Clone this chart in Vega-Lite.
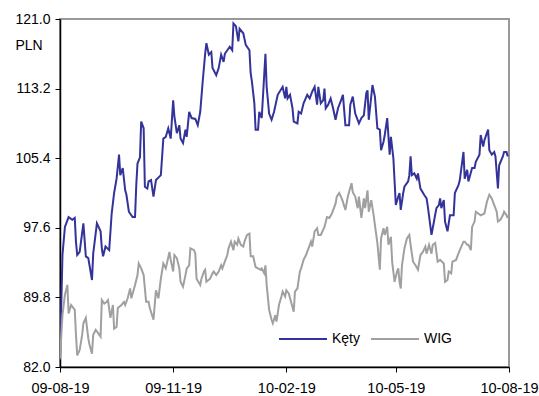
{
  "$schema": "https://vega.github.io/schema/vega-lite/v6.json",
  "width": 449,
  "height": 348,
  "autosize": {"type": "none"},
  "padding": {"left": 60, "top": 19, "right": 30, "bottom": 29},
  "config": {
    "font": "Liberation Sans",
    "view": {"stroke": "#999999", "strokeWidth": 2},
    "axis": {"grid": false, "labelFont": "Liberation Sans", "labelFontSize": 14, "labelColor": "#000000", "domainColor": "#000000", "domainWidth": 1.5, "tickColor": "#000000", "tickWidth": 1, "tickSize": 5}
  },
  "data": {"values": [
    {"s":"Kęty","d":"2009-08-19","v":82.8},{"s":"Kęty","d":"2009-08-21","v":94.55},{"s":"Kęty","d":"2009-08-23","v":97.7},{"s":"Kęty","d":"2009-08-26","v":98.8},{"s":"Kęty","d":"2009-08-29","v":98.5},{"s":"Kęty","d":"2009-08-31","v":98.7},{"s":"Kęty","d":"2009-09-01","v":96.0},{"s":"Kęty","d":"2009-09-02","v":94.55},{"s":"Kęty","d":"2009-09-04","v":94.9},{"s":"Kęty","d":"2009-09-07","v":98.1},{"s":"Kęty","d":"2009-09-09","v":94.4},{"s":"Kęty","d":"2009-09-11","v":94.2},{"s":"Kęty","d":"2009-09-14","v":91.75},{"s":"Kęty","d":"2009-09-15","v":94.7},{"s":"Kęty","d":"2009-09-18","v":98.1},{"s":"Kęty","d":"2009-09-21","v":97.2},{"s":"Kęty","d":"2009-09-22","v":95.3},{"s":"Kęty","d":"2009-09-23","v":94.4},{"s":"Kęty","d":"2009-09-25","v":95.5},{"s":"Kęty","d":"2009-09-28","v":95.1},{"s":"Kęty","d":"2009-09-30","v":99.2},{"s":"Kęty","d":"2009-10-02","v":101.5},{"s":"Kęty","d":"2009-10-04","v":103.1},{"s":"Kęty","d":"2009-10-06","v":105.8},{"s":"Kęty","d":"2009-10-07","v":103.5},{"s":"Kęty","d":"2009-10-09","v":104.3},{"s":"Kęty","d":"2009-10-11","v":101.8},{"s":"Kęty","d":"2009-10-12","v":101.3},{"s":"Kęty","d":"2009-10-14","v":99.4},{"s":"Kęty","d":"2009-10-17","v":98.8},{"s":"Kęty","d":"2009-10-19","v":98.8},{"s":"Kęty","d":"2009-10-20","v":102.4},{"s":"Kęty","d":"2009-10-21","v":104.8},{"s":"Kęty","d":"2009-10-23","v":105.5},{"s":"Kęty","d":"2009-10-24","v":109.5},{"s":"Kęty","d":"2009-10-26","v":108.75},{"s":"Kęty","d":"2009-10-27","v":102.2},{"s":"Kęty","d":"2009-10-29","v":102.0},{"s":"Kęty","d":"2009-10-30","v":102.8},{"s":"Kęty","d":"2009-11-01","v":102.95},{"s":"Kęty","d":"2009-11-03","v":101.1},{"s":"Kęty","d":"2009-11-05","v":102.95},{"s":"Kęty","d":"2009-11-09","v":103.5},{"s":"Kęty","d":"2009-11-11","v":107.6},{"s":"Kęty","d":"2009-11-13","v":107.8},{"s":"Kęty","d":"2009-11-15","v":108.75},{"s":"Kęty","d":"2009-11-17","v":107.6},{"s":"Kęty","d":"2009-11-19","v":111.9},{"s":"Kęty","d":"2009-11-20","v":110.05},{"s":"Kęty","d":"2009-11-22","v":108.2},{"s":"Kęty","d":"2009-11-24","v":109.1},{"s":"Kęty","d":"2009-11-25","v":107.6},{"s":"Kęty","d":"2009-11-27","v":107.1},{"s":"Kęty","d":"2009-11-29","v":108.6},{"s":"Kęty","d":"2009-11-30","v":107.8},{"s":"Kęty","d":"2009-12-02","v":110.6},{"s":"Kęty","d":"2009-12-04","v":109.9},{"s":"Kęty","d":"2009-12-07","v":109.8},{"s":"Kęty","d":"2009-12-09","v":109.1},{"s":"Kęty","d":"2009-12-11","v":110.6},{"s":"Kęty","d":"2009-12-13","v":114.0},{"s":"Kęty","d":"2009-12-15","v":117.1},{"s":"Kęty","d":"2009-12-16","v":118.3},{"s":"Kęty","d":"2009-12-18","v":117.0},{"s":"Kęty","d":"2009-12-20","v":117.3},{"s":"Kęty","d":"2009-12-21","v":115.5},{"s":"Kęty","d":"2009-12-24","v":114.7},{"s":"Kęty","d":"2009-12-26","v":115.5},{"s":"Kęty","d":"2009-12-28","v":117.0},{"s":"Kęty","d":"2009-12-30","v":116.2},{"s":"Kęty","d":"2009-12-31","v":117.1},{"s":"Kęty","d":"2010-01-03","v":117.7},{"s":"Kęty","d":"2010-01-04","v":117.9},{"s":"Kęty","d":"2010-01-06","v":117.5},{"s":"Kęty","d":"2010-01-07","v":120.5},{"s":"Kęty","d":"2010-01-09","v":120.2},{"s":"Kęty","d":"2010-01-11","v":118.5},{"s":"Kęty","d":"2010-01-12","v":119.9},{"s":"Kęty","d":"2010-01-15","v":119.4},{"s":"Kęty","d":"2010-01-17","v":118.1},{"s":"Kęty","d":"2010-01-20","v":117.5},{"s":"Kęty","d":"2010-01-21","v":114.9},{"s":"Kęty","d":"2010-01-22","v":114.0},{"s":"Kęty","d":"2010-01-24","v":111.55},{"s":"Kęty","d":"2010-01-25","v":108.6},{"s":"Kęty","d":"2010-01-27","v":108.6},{"s":"Kęty","d":"2010-01-28","v":110.6},{"s":"Kęty","d":"2010-01-30","v":109.9},{"s":"Kęty","d":"2010-02-02","v":117.1},{"s":"Kęty","d":"2010-02-03","v":113.4},{"s":"Kęty","d":"2010-02-05","v":110.4},{"s":"Kęty","d":"2010-02-07","v":109.7},{"s":"Kęty","d":"2010-02-09","v":110.6},{"s":"Kęty","d":"2010-02-12","v":112.5},{"s":"Kęty","d":"2010-02-16","v":113.4},{"s":"Kęty","d":"2010-02-18","v":112.1},{"s":"Kęty","d":"2010-02-19","v":113.4},{"s":"Kęty","d":"2010-02-20","v":112.1},{"s":"Kęty","d":"2010-02-22","v":112.5},{"s":"Kęty","d":"2010-02-24","v":111.0},{"s":"Kęty","d":"2010-02-25","v":109.5},{"s":"Kęty","d":"2010-02-28","v":109.3},{"s":"Kęty","d":"2010-03-01","v":110.6},{"s":"Kęty","d":"2010-03-03","v":110.4},{"s":"Kęty","d":"2010-03-05","v":111.55},{"s":"Kęty","d":"2010-03-08","v":112.5},{"s":"Kęty","d":"2010-03-10","v":112.1},{"s":"Kęty","d":"2010-03-12","v":112.85},{"s":"Kęty","d":"2010-03-14","v":113.4},{"s":"Kęty","d":"2010-03-16","v":111.4},{"s":"Kęty","d":"2010-03-17","v":113.4},{"s":"Kęty","d":"2010-03-19","v":111.55},{"s":"Kęty","d":"2010-03-21","v":111.9},{"s":"Kęty","d":"2010-03-22","v":113.2},{"s":"Kęty","d":"2010-03-23","v":111.0},{"s":"Kęty","d":"2010-03-25","v":111.4},{"s":"Kęty","d":"2010-03-27","v":112.1},{"s":"Kęty","d":"2010-03-29","v":111.0},{"s":"Kęty","d":"2010-03-31","v":109.7},{"s":"Kęty","d":"2010-04-02","v":111.0},{"s":"Kęty","d":"2010-04-04","v":111.7},{"s":"Kęty","d":"2010-04-06","v":112.5},{"s":"Kęty","d":"2010-04-08","v":109.1},{"s":"Kęty","d":"2010-04-11","v":109.1},{"s":"Kęty","d":"2010-04-12","v":111.4},{"s":"Kęty","d":"2010-04-14","v":112.3},{"s":"Kęty","d":"2010-04-16","v":110.4},{"s":"Kęty","d":"2010-04-19","v":109.3},{"s":"Kęty","d":"2010-04-21","v":109.9},{"s":"Kęty","d":"2010-04-23","v":110.2},{"s":"Kęty","d":"2010-04-25","v":112.7},{"s":"Kęty","d":"2010-04-26","v":113.0},{"s":"Kęty","d":"2010-04-27","v":109.7},{"s":"Kęty","d":"2010-04-30","v":113.6},{"s":"Kęty","d":"2010-05-02","v":112.3},{"s":"Kęty","d":"2010-05-04","v":108.75},{"s":"Kęty","d":"2010-05-06","v":108.6},{"s":"Kęty","d":"2010-05-07","v":106.3},{"s":"Kęty","d":"2010-05-09","v":107.25},{"s":"Kęty","d":"2010-05-10","v":108.0},{"s":"Kęty","d":"2010-05-12","v":109.9},{"s":"Kęty","d":"2010-05-14","v":105.8},{"s":"Kęty","d":"2010-05-15","v":107.8},{"s":"Kęty","d":"2010-05-17","v":105.4},{"s":"Kęty","d":"2010-05-19","v":100.15},{"s":"Kęty","d":"2010-05-21","v":101.1},{"s":"Kęty","d":"2010-05-22","v":101.5},{"s":"Kęty","d":"2010-05-23","v":99.6},{"s":"Kęty","d":"2010-05-25","v":101.5},{"s":"Kęty","d":"2010-05-26","v":102.2},{"s":"Kęty","d":"2010-05-29","v":102.8},{"s":"Kęty","d":"2010-05-30","v":103.5},{"s":"Kęty","d":"2010-05-31","v":105.6},{"s":"Kęty","d":"2010-06-01","v":103.5},{"s":"Kęty","d":"2010-06-03","v":103.7},{"s":"Kęty","d":"2010-06-05","v":103.1},{"s":"Kęty","d":"2010-06-06","v":103.7},{"s":"Kęty","d":"2010-06-08","v":102.0},{"s":"Kęty","d":"2010-06-11","v":101.3},{"s":"Kęty","d":"2010-06-13","v":100.9},{"s":"Kęty","d":"2010-06-14","v":100.0},{"s":"Kęty","d":"2010-06-17","v":96.8},{"s":"Kęty","d":"2010-06-19","v":98.3},{"s":"Kęty","d":"2010-06-21","v":99.8},{"s":"Kęty","d":"2010-06-23","v":100.15},{"s":"Kęty","d":"2010-06-24","v":100.9},{"s":"Kęty","d":"2010-06-25","v":99.8},{"s":"Kęty","d":"2010-06-27","v":100.7},{"s":"Kęty","d":"2010-06-28","v":98.3},{"s":"Kęty","d":"2010-06-30","v":97.2},{"s":"Kęty","d":"2010-07-02","v":99.0},{"s":"Kęty","d":"2010-07-05","v":99.0},{"s":"Kęty","d":"2010-07-06","v":101.5},{"s":"Kęty","d":"2010-07-09","v":102.4},{"s":"Kęty","d":"2010-07-10","v":102.95},{"s":"Kęty","d":"2010-07-13","v":106.1},{"s":"Kęty","d":"2010-07-14","v":103.1},{"s":"Kęty","d":"2010-07-16","v":104.1},{"s":"Kęty","d":"2010-07-17","v":102.8},{"s":"Kęty","d":"2010-07-20","v":104.3},{"s":"Kęty","d":"2010-07-22","v":104.3},{"s":"Kęty","d":"2010-07-23","v":105.0},{"s":"Kęty","d":"2010-07-26","v":105.8},{"s":"Kęty","d":"2010-07-27","v":108.0},{"s":"Kęty","d":"2010-07-29","v":106.7},{"s":"Kęty","d":"2010-07-30","v":107.4},{"s":"Kęty","d":"2010-08-02","v":108.6},{"s":"Kęty","d":"2010-08-03","v":106.3},{"s":"Kęty","d":"2010-08-05","v":105.8},{"s":"Kęty","d":"2010-08-07","v":106.1},{"s":"Kęty","d":"2010-08-08","v":105.6},{"s":"Kęty","d":"2010-08-10","v":102.0},{"s":"Kęty","d":"2010-08-11","v":104.6},{"s":"Kęty","d":"2010-08-14","v":105.6},{"s":"Kęty","d":"2010-08-15","v":106.1},{"s":"Kęty","d":"2010-08-17","v":106.1},{"s":"Kęty","d":"2010-08-18","v":105.6},
    {"s":"WIG","d":"2009-08-19","v":82.97},{"s":"WIG","d":"2009-08-21","v":87.8},{"s":"WIG","d":"2009-08-23","v":90.1},{"s":"WIG","d":"2009-08-25","v":91.2},{"s":"WIG","d":"2009-08-26","v":88.0},{"s":"WIG","d":"2009-08-28","v":88.95},{"s":"WIG","d":"2009-08-31","v":88.4},{"s":"WIG","d":"2009-09-01","v":85.6},{"s":"WIG","d":"2009-09-02","v":83.3},{"s":"WIG","d":"2009-09-04","v":83.9},{"s":"WIG","d":"2009-09-06","v":85.6},{"s":"WIG","d":"2009-09-07","v":86.9},{"s":"WIG","d":"2009-09-09","v":87.5},{"s":"WIG","d":"2009-09-11","v":85.2},{"s":"WIG","d":"2009-09-12","v":84.5},{"s":"WIG","d":"2009-09-14","v":83.5},{"s":"WIG","d":"2009-09-15","v":85.6},{"s":"WIG","d":"2009-09-17","v":86.15},{"s":"WIG","d":"2009-09-19","v":85.8},{"s":"WIG","d":"2009-09-21","v":85.4},{"s":"WIG","d":"2009-09-22","v":89.5},{"s":"WIG","d":"2009-09-24","v":89.1},{"s":"WIG","d":"2009-09-26","v":89.3},{"s":"WIG","d":"2009-09-27","v":89.5},{"s":"WIG","d":"2009-09-29","v":87.5},{"s":"WIG","d":"2009-10-01","v":88.95},{"s":"WIG","d":"2009-10-02","v":86.3},{"s":"WIG","d":"2009-10-04","v":86.5},{"s":"WIG","d":"2009-10-05","v":88.6},{"s":"WIG","d":"2009-10-08","v":88.95},{"s":"WIG","d":"2009-10-10","v":89.3},{"s":"WIG","d":"2009-10-11","v":88.95},{"s":"WIG","d":"2009-10-13","v":89.7},{"s":"WIG","d":"2009-10-15","v":90.8},{"s":"WIG","d":"2009-10-16","v":89.7},{"s":"WIG","d":"2009-10-19","v":91.2},{"s":"WIG","d":"2009-10-21","v":92.3},{"s":"WIG","d":"2009-10-22","v":93.6},{"s":"WIG","d":"2009-10-24","v":93.05},{"s":"WIG","d":"2009-10-26","v":92.3},{"s":"WIG","d":"2009-10-28","v":89.3},{"s":"WIG","d":"2009-10-30","v":89.3},{"s":"WIG","d":"2009-10-31","v":88.6},{"s":"WIG","d":"2009-11-03","v":87.3},{"s":"WIG","d":"2009-11-05","v":90.6},{"s":"WIG","d":"2009-11-07","v":89.7},{"s":"WIG","d":"2009-11-09","v":91.9},{"s":"WIG","d":"2009-11-11","v":93.6},{"s":"WIG","d":"2009-11-13","v":93.05},{"s":"WIG","d":"2009-11-16","v":94.9},{"s":"WIG","d":"2009-11-17","v":94.0},{"s":"WIG","d":"2009-11-19","v":92.7},{"s":"WIG","d":"2009-11-20","v":94.55},{"s":"WIG","d":"2009-11-22","v":94.2},{"s":"WIG","d":"2009-11-24","v":93.05},{"s":"WIG","d":"2009-11-25","v":91.55},{"s":"WIG","d":"2009-11-27","v":91.0},{"s":"WIG","d":"2009-11-29","v":92.3},{"s":"WIG","d":"2009-11-30","v":93.05},{"s":"WIG","d":"2009-12-02","v":93.4},{"s":"WIG","d":"2009-12-03","v":95.3},{"s":"WIG","d":"2009-12-06","v":95.1},{"s":"WIG","d":"2009-12-07","v":94.7},{"s":"WIG","d":"2009-12-08","v":91.9},{"s":"WIG","d":"2009-12-11","v":91.2},{"s":"WIG","d":"2009-12-12","v":91.9},{"s":"WIG","d":"2009-12-14","v":92.7},{"s":"WIG","d":"2009-12-15","v":92.9},{"s":"WIG","d":"2009-12-16","v":91.55},{"s":"WIG","d":"2009-12-19","v":91.9},{"s":"WIG","d":"2009-12-21","v":92.5},{"s":"WIG","d":"2009-12-22","v":92.7},{"s":"WIG","d":"2009-12-24","v":92.3},{"s":"WIG","d":"2009-12-26","v":92.7},{"s":"WIG","d":"2009-12-28","v":93.4},{"s":"WIG","d":"2009-12-29","v":93.05},{"s":"WIG","d":"2009-12-31","v":93.8},{"s":"WIG","d":"2010-01-02","v":94.55},{"s":"WIG","d":"2010-01-03","v":95.3},{"s":"WIG","d":"2010-01-05","v":96.05},{"s":"WIG","d":"2010-01-07","v":95.1},{"s":"WIG","d":"2010-01-08","v":96.05},{"s":"WIG","d":"2010-01-10","v":95.7},{"s":"WIG","d":"2010-01-11","v":96.4},{"s":"WIG","d":"2010-01-13","v":95.7},{"s":"WIG","d":"2010-01-15","v":95.5},{"s":"WIG","d":"2010-01-16","v":96.05},{"s":"WIG","d":"2010-01-18","v":96.8},{"s":"WIG","d":"2010-01-20","v":96.95},{"s":"WIG","d":"2010-01-21","v":94.4},{"s":"WIG","d":"2010-01-23","v":94.4},{"s":"WIG","d":"2010-01-25","v":93.2},{"s":"WIG","d":"2010-01-27","v":93.05},{"s":"WIG","d":"2010-01-29","v":92.9},{"s":"WIG","d":"2010-01-30","v":93.05},{"s":"WIG","d":"2010-02-01","v":92.5},{"s":"WIG","d":"2010-02-02","v":93.4},{"s":"WIG","d":"2010-02-03","v":91.2},{"s":"WIG","d":"2010-02-05","v":88.4},{"s":"WIG","d":"2010-02-07","v":87.3},{"s":"WIG","d":"2010-02-08","v":86.9},{"s":"WIG","d":"2010-02-10","v":87.8},{"s":"WIG","d":"2010-02-11","v":87.1},{"s":"WIG","d":"2010-02-13","v":88.95},{"s":"WIG","d":"2010-02-15","v":89.9},{"s":"WIG","d":"2010-02-16","v":90.45},{"s":"WIG","d":"2010-02-18","v":89.9},{"s":"WIG","d":"2010-02-19","v":90.6},{"s":"WIG","d":"2010-02-21","v":90.25},{"s":"WIG","d":"2010-02-25","v":88.2},{"s":"WIG","d":"2010-02-26","v":90.45},{"s":"WIG","d":"2010-02-28","v":90.8},{"s":"WIG","d":"2010-03-02","v":92.7},{"s":"WIG","d":"2010-03-03","v":93.05},{"s":"WIG","d":"2010-03-05","v":94.0},{"s":"WIG","d":"2010-03-07","v":94.55},{"s":"WIG","d":"2010-03-09","v":95.3},{"s":"WIG","d":"2010-03-11","v":96.05},{"s":"WIG","d":"2010-03-12","v":95.5},{"s":"WIG","d":"2010-03-14","v":97.2},{"s":"WIG","d":"2010-03-16","v":97.55},{"s":"WIG","d":"2010-03-17","v":96.8},{"s":"WIG","d":"2010-03-19","v":96.8},{"s":"WIG","d":"2010-03-22","v":97.7},{"s":"WIG","d":"2010-03-24","v":98.8},{"s":"WIG","d":"2010-03-26","v":98.7},{"s":"WIG","d":"2010-03-28","v":99.2},{"s":"WIG","d":"2010-03-31","v":100.3},{"s":"WIG","d":"2010-04-01","v":101.1},{"s":"WIG","d":"2010-04-03","v":101.5},{"s":"WIG","d":"2010-04-05","v":100.9},{"s":"WIG","d":"2010-04-06","v":100.5},{"s":"WIG","d":"2010-04-08","v":99.6},{"s":"WIG","d":"2010-04-10","v":101.1},{"s":"WIG","d":"2010-04-11","v":101.6},{"s":"WIG","d":"2010-04-13","v":102.6},{"s":"WIG","d":"2010-04-14","v":101.6},{"s":"WIG","d":"2010-04-16","v":101.1},{"s":"WIG","d":"2010-04-18","v":99.8},{"s":"WIG","d":"2010-04-19","v":101.1},{"s":"WIG","d":"2010-04-21","v":98.7},{"s":"WIG","d":"2010-04-23","v":100.9},{"s":"WIG","d":"2010-04-24","v":99.8},{"s":"WIG","d":"2010-04-26","v":101.8},{"s":"WIG","d":"2010-04-27","v":99.4},{"s":"WIG","d":"2010-04-29","v":100.7},{"s":"WIG","d":"2010-05-01","v":99.0},{"s":"WIG","d":"2010-05-02","v":97.9},{"s":"WIG","d":"2010-05-04","v":95.9},{"s":"WIG","d":"2010-05-06","v":92.9},{"s":"WIG","d":"2010-05-07","v":96.4},{"s":"WIG","d":"2010-05-09","v":97.55},{"s":"WIG","d":"2010-05-10","v":96.8},{"s":"WIG","d":"2010-05-12","v":97.7},{"s":"WIG","d":"2010-05-13","v":95.7},{"s":"WIG","d":"2010-05-15","v":96.6},{"s":"WIG","d":"2010-05-16","v":93.8},{"s":"WIG","d":"2010-05-18","v":91.55},{"s":"WIG","d":"2010-05-20","v":92.7},{"s":"WIG","d":"2010-05-21","v":93.05},{"s":"WIG","d":"2010-05-22","v":91.55},{"s":"WIG","d":"2010-05-23","v":90.8},{"s":"WIG","d":"2010-05-24","v":93.4},{"s":"WIG","d":"2010-05-26","v":95.3},{"s":"WIG","d":"2010-05-28","v":96.4},{"s":"WIG","d":"2010-05-30","v":96.8},{"s":"WIG","d":"2010-05-31","v":95.7},{"s":"WIG","d":"2010-06-02","v":93.8},{"s":"WIG","d":"2010-06-04","v":93.4},{"s":"WIG","d":"2010-06-06","v":92.9},{"s":"WIG","d":"2010-06-08","v":94.55},{"s":"WIG","d":"2010-06-10","v":94.9},{"s":"WIG","d":"2010-06-12","v":95.5},{"s":"WIG","d":"2010-06-13","v":94.7},{"s":"WIG","d":"2010-06-15","v":95.7},{"s":"WIG","d":"2010-06-17","v":94.7},{"s":"WIG","d":"2010-06-18","v":95.7},{"s":"WIG","d":"2010-06-20","v":95.9},{"s":"WIG","d":"2010-06-22","v":93.8},{"s":"WIG","d":"2010-06-24","v":94.0},{"s":"WIG","d":"2010-06-27","v":93.6},{"s":"WIG","d":"2010-06-28","v":91.55},{"s":"WIG","d":"2010-06-30","v":91.75},{"s":"WIG","d":"2010-07-01","v":92.7},{"s":"WIG","d":"2010-07-03","v":92.5},{"s":"WIG","d":"2010-07-04","v":93.8},{"s":"WIG","d":"2010-07-07","v":94.0},{"s":"WIG","d":"2010-07-08","v":94.4},{"s":"WIG","d":"2010-07-10","v":95.1},{"s":"WIG","d":"2010-07-13","v":96.05},{"s":"WIG","d":"2010-07-14","v":96.05},{"s":"WIG","d":"2010-07-16","v":95.7},{"s":"WIG","d":"2010-07-17","v":95.7},{"s":"WIG","d":"2010-07-19","v":95.1},{"s":"WIG","d":"2010-07-20","v":97.7},{"s":"WIG","d":"2010-07-22","v":98.3},{"s":"WIG","d":"2010-07-23","v":99.4},{"s":"WIG","d":"2010-07-25","v":99.2},{"s":"WIG","d":"2010-07-27","v":99.0},{"s":"WIG","d":"2010-07-30","v":99.2},{"s":"WIG","d":"2010-08-01","v":100.5},{"s":"WIG","d":"2010-08-03","v":101.3},{"s":"WIG","d":"2010-08-05","v":100.9},{"s":"WIG","d":"2010-08-07","v":100.15},{"s":"WIG","d":"2010-08-09","v":99.4},{"s":"WIG","d":"2010-08-10","v":98.3},{"s":"WIG","d":"2010-08-12","v":98.5},{"s":"WIG","d":"2010-08-14","v":99.0},{"s":"WIG","d":"2010-08-15","v":99.4},{"s":"WIG","d":"2010-08-17","v":99.0},{"s":"WIG","d":"2010-08-18","v":98.7}
  ]},
  "mark": {"type": "line", "strokeWidth": 2, "clip": true},
  "encoding": {
    "x": {
      "field": "d", "type": "temporal",
      "scale": {"type": "utc", "domain": [{"year": 2009, "month": 8, "date": 19, "utc": true}, {"year": 2010, "month": 8, "date": 19, "utc": true}]},
      "axis": {
        "title": null,
        "format": "%y-%m-%d",
        "values": [
          {"year": 2009, "month": 8, "date": 19, "utc": true},
          {"year": 2009, "month": 11, "date": 19, "utc": true},
          {"year": 2010, "month": 2, "date": 19, "utc": true},
          {"year": 2010, "month": 5, "date": 19, "utc": true},
          {"year": 2010, "month": 8, "date": 19, "utc": true}
        ],
        "labelFontSize": 14.5,
        "labelPadding": 9,
        "labelFlush": false,
        "labelOverlap": false
      }
    },
    "y": {
      "field": "v", "type": "quantitative",
      "scale": {"domain": [82, 121], "zero": false, "nice": false},
      "axis": {
        "title": "PLN",
        "titleAngle": 0,
        "titleX": -45,
        "titleY": 26,
        "titleAlign": "left",
        "titleBaseline": "middle",
        "titleFont": "Liberation Sans",
        "titleFontSize": 14,
        "titleFontWeight": "normal",
        "titleColor": "#000000",
        "values": [82, 89.8, 97.6, 105.4, 113.2, 121],
        "format": ".1f",
        "labelPadding": 5,
        "labelFlush": false,
        "labelOverlap": false
      }
    },
    "color": {
      "field": "s", "type": "nominal",
      "scale": {"domain": ["Kęty", "WIG"], "range": ["#333399", "#a0a0a0"]},
      "legend": {
        "title": null,
        "orient": "none",
        "direction": "horizontal",
        "legendX": 218,
        "legendY": 295,
        "symbolType": "stroke",
        "symbolSize": 2304,
        "symbolStrokeWidth": 2,
        "labelFont": "Liberation Sans",
        "labelFontSize": 14,
        "labelColor": "#000000",
        "labelOffset": 4,
        "columnPadding": 6
      }
    }
  }
}
